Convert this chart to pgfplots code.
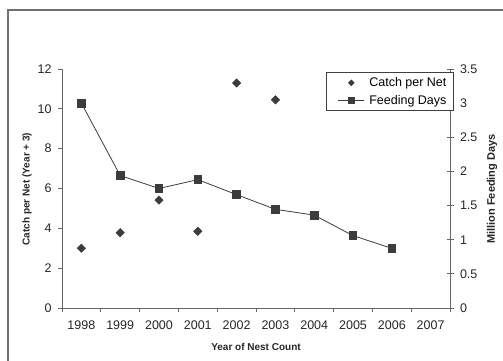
\documentclass[border=0pt]{standalone}
\usepackage{pgfplots}
\pgfplotsset{compat=1.18}
\usepackage{fontspec}
\setmainfont{Liberation Sans}
\definecolor{mk}{HTML}{3C3C3C}
\definecolor{ax}{HTML}{666666}
\definecolor{fr}{HTML}{707070}
\begin{document}
\begin{tikzpicture}[x=1pt,y=1pt]
\useasboundingbox (0,0) rectangle (503,361);
\draw[fr, line width=1.4pt] (8,0) -- (8,351) -- (503,351);
\pgfplotsset{
  base/.style={
    at={(62pt,53pt)}, anchor=south west,
    scale only axis, width=388pt, height=239pt,
    xmin=-0.5, xmax=9.5,
    axis line style={ax, line width=0.9pt},
    tick style={ax, line width=0.9pt},
    tick align=outside,
    ticklabel style={font=\fontsize{12.5}{14}\selectfont, text=black!85},
    /pgf/number format/assume math mode=true,
  }
}
\begin{axis}[base,
  axis x line*=bottom, axis y line*=left,
  ymin=0, ymax=12, ytick={0,2,...,12},
  xtick={0,...,9},
  xticklabels={1998,1999,2000,2001,2002,2003,2004,2005,2006,2007},
  major x tick style={draw=none},
  minor xtick={-0.5,0.5,...,9.5},
  minor tick length=4pt,
  major tick length=4pt,
  xticklabel style={yshift=-5pt},
  yticklabel style={xshift=-3pt},
]
\addplot[only marks, mark=square*, mark size=3pt, mk, mark options={fill=mk, draw=mk, rotate=45}]
  coordinates {(0,3.0) (1,3.78) (2,5.42) (3,3.85) (4,11.3) (5,10.45)};
\end{axis}
\begin{axis}[base,
  axis x line=none, axis y line*=right,
  ymin=0, ymax=3.5, ytick={0,0.5,...,3.5},
  yticklabels={0,0.5,1,1.5,2,2.5,3,3.5},
  tick align=center, major tick length=7pt,
  yticklabel style={xshift=3pt},
  legend style={at={(1.01,0.987)}, anchor=north east,
    draw=black!75, line width=0.9pt, fill=white,
    font=\fontsize{12.5}{14}\selectfont,
    inner xsep=5pt, inner ysep=3pt, row sep=3pt,
    cells={anchor=west}},
  legend image code/.code={
    \path[draw=none, fill=none] (0pt,0pt) -- (36pt,0pt);
    \draw[#1, mark repeat=2, mark phase=2] plot coordinates {(7pt,0pt) (20pt,0pt) (33pt,0pt)};
  },
]
\addlegendimage{only marks, mark=square*, mark size=1.9pt, mk, mark options={fill=mk, rotate=45}}
\addlegendentry{Catch per Net}
\addlegendimage{color=mk, line width=0.8pt, mark=square*, mark size=2.6pt, mark options={fill=mk, draw=mk}}
\addlegendentry{Feeding Days}
\addplot[color=mk, line width=0.8pt, mark=square*, mark size=3.8pt, mark options={fill=mk, draw=mk}, forget plot]
  coordinates {(0,3.0) (1,1.94) (2,1.75) (3,1.88) (4,1.66) (5,1.445) (6,1.36) (7,1.06) (8,0.874)};
\end{axis}
\node[rotate=90, font=\fontsize{10}{12}\selectfont\bfseries, text=black!85] at (27,172) {Catch per Net (Year + 3)};
\node[rotate=90, font=\fontsize{11}{13}\selectfont\bfseries, text=black!85] at (492,172) {Million Feeding Days};
\node[font=\fontsize{10}{12}\selectfont\bfseries, text=black!85] at (256,14) {Year of Nest Count};
\end{tikzpicture}
\end{document}
